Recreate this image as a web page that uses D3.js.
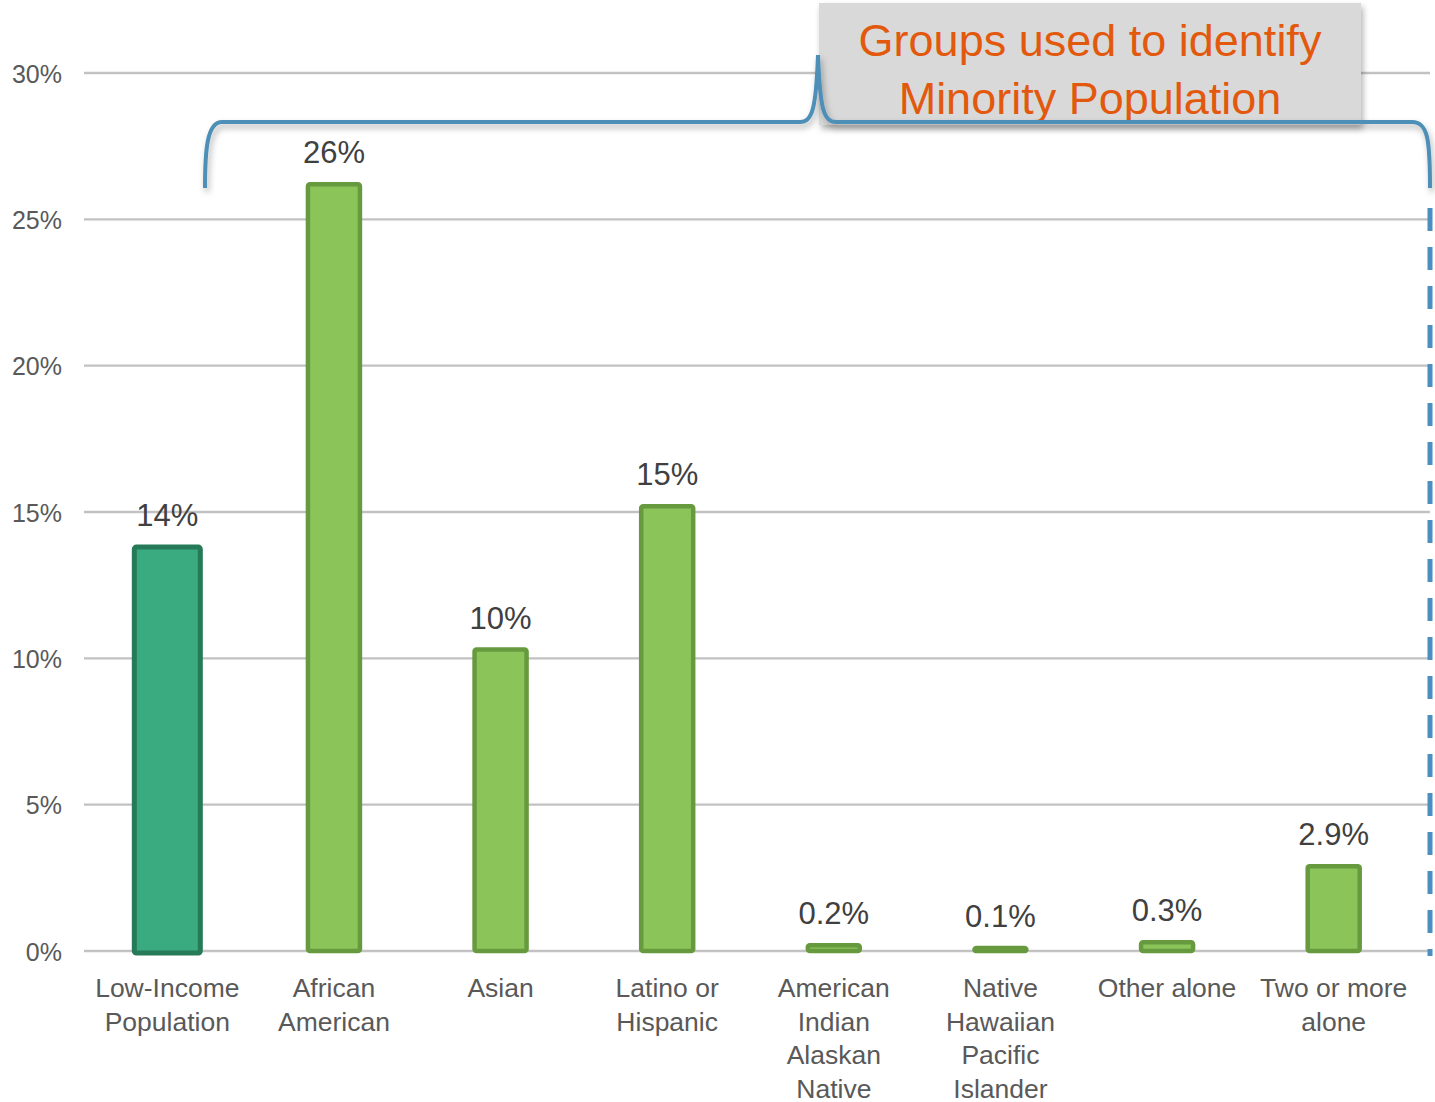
<!DOCTYPE html>
<html><head><meta charset="utf-8">
<script src="https://cdn.jsdelivr.net/npm/d3@7"></script>
<style>
html,body{margin:0;padding:0;background:#fff;}
svg{display:block;font-family:"Liberation Sans",Arial,sans-serif;}
</style></head>
<body>
<svg id="chart" width="1435" height="1102"></svg>
<script>
const categories = ["Low-Income Population","African American","Asian","Latino or Hispanic","American Indian Alaskan Native","Native Hawaiian Pacific Islander","Other alone","Two or more alone"];
const labelLines = [["Low-Income","Population"],["African","American"],["Asian"],["Latino or","Hispanic"],["American","Indian","Alaskan","Native"],["Native","Hawaiian","Pacific","Islander"],["Other alone"],["Two or more","alone"]];
const values = [13.8, 26.2, 10.3, 15.2, 0.2, 0.1, 0.3, 2.9];
const valueLabels = ["14%","26%","10%","15%","0.2%","0.1%","0.3%","2.9%"];
const yTicks = [0,5,10,15,20,25,30];
const calloutLines = ["Groups used to identify","Minority Population"];

const svg = d3.select("#chart");
const defs = svg.append("defs");
const f = defs.append("filter").attr("id","shadow").attr("x","-10%").attr("y","-10%").attr("width","130%").attr("height","140%");
f.append("feDropShadow").attr("dx",2).attr("dy",4).attr("stdDeviation",3).attr("flood-color","#000").attr("flood-opacity",0.3);

const x = d3.scaleBand().domain(categories).range([84,1417]).padding(0);
const y = d3.scaleLinear().domain([0,30]).range([951,73]);

// gridlines
svg.append("g").selectAll("line").data(yTicks).join("line")
  .attr("x1",84).attr("x2",1430)
  .attr("y1",d=>y(d)).attr("y2",d=>y(d))
  .attr("stroke","#c2c2c2").attr("stroke-width",2.4);

// y axis labels
const yAxis = d3.axisLeft(y).tickValues(yTicks).tickFormat(d=>d+"%").tickSize(0).tickPadding(0);
const ga = svg.append("g").attr("transform","translate(62,0)").call(yAxis);
ga.select(".domain").remove();
ga.selectAll("text").attr("font-size",25).attr("fill","#595959")
  .attr("font-family","'Liberation Sans',Arial,sans-serif").attr("dy","0.36em");

// bars
const barW = i => i===0 ? 66 : 52;
svg.append("g").selectAll("rect").data(values).join("rect")
  .attr("x",(d,i)=>x(categories[i])+x.bandwidth()/2-barW(i)/2)
  .attr("y",d=>y(d))
  .attr("width",(d,i)=>barW(i))
  .attr("height",(d,i)=>y(0)-y(d) + (i===0?2:0))
  .attr("rx",2)
  .attr("fill",(d,i)=>i===0?"#3aaa80":"#8bc55a")
  .attr("stroke",(d,i)=>i===0?"#277a58":"#679a3e")
  .attr("stroke-width",(d,i)=>i===0?5:4.5);

// value labels
svg.append("g").selectAll("text").data(values).join("text")
  .attr("x",(d,i)=>x(categories[i])+x.bandwidth()/2)
  .attr("y",d=>y(d)-21)
  .attr("text-anchor","middle")
  .attr("font-size",31).attr("fill","#404040")
  .text((d,i)=>valueLabels[i]);

// category labels
const cl = svg.append("g").selectAll("text").data(labelLines).join("text")
  .attr("x",(d,i)=>x(categories[i])+x.bandwidth()/2)
  .attr("y",997)
  .attr("text-anchor","middle")
  .attr("font-size",26.5).attr("fill","#595959");
cl.selectAll("tspan").data(d=>d).join("tspan")
  .attr("x",function(){return this.parentNode.getAttribute("x");})
  .attr("dy",(d,j)=>j===0?0:33.5)
  .text(d=>d);

// dashed vertical line
svg.append("line").attr("x1",1430).attr("x2",1430).attr("y1",208).attr("y2",956)
  .attr("stroke","#4a8fc0").attr("stroke-width",5).attr("stroke-dasharray","23,16");

// callout box
svg.append("rect").attr("x",819).attr("y",3).attr("width",542).attr("height",122)
  .attr("fill","#d9d9d9").attr("filter","url(#shadow)");
svg.append("g").selectAll("text").data(calloutLines).join("text")
  .attr("x",1090).attr("y",(d,i)=>56+i*58)
  .attr("text-anchor","middle").attr("font-size",45).attr("fill","#e2590e")
  .text(d=>d);

// bracket
const by = 122;
const bracket = `M205,188 C205,150 207,${by} 222,${by} L800,${by} C812,${by} 816,110 818,55 C820,110 824,${by} 836,${by} L1412,${by} C1428,${by} 1430,140 1430,188`;
svg.append("path").attr("d",bracket).attr("fill","none")
  .attr("stroke","#4e8fb6").attr("stroke-width",4).attr("filter","url(#shadow)");
</script>
</body></html>
